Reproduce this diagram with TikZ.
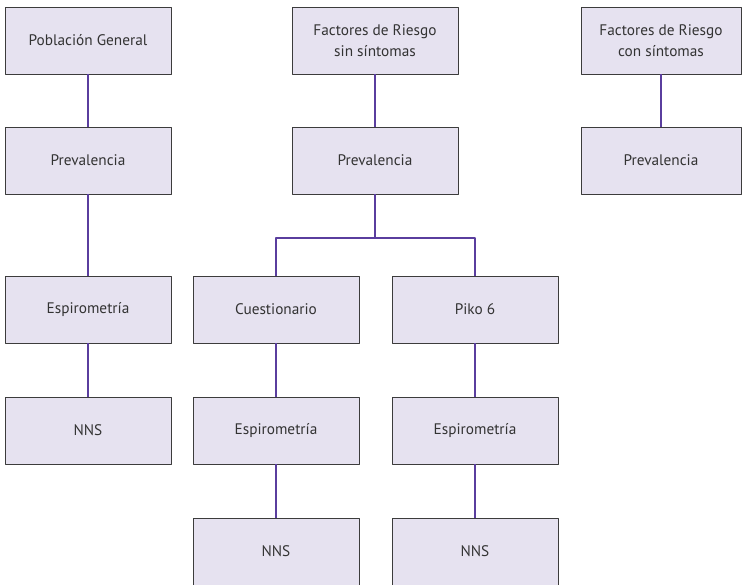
\documentclass[tikz,border=0pt]{standalone}
\usepackage{fontspec}
\setmainfont{PT Sans}
\usetikzlibrary{positioning}
\definecolor{lila_claro}{HTML}{E6E2F0}
\definecolor{borde_gris}{HTML}{3C3C3C}
\definecolor{morado}{HTML}{5A3E9E}
\tikzset{caja/.style={draw=borde_gris,fill=lila_claro,line width=0.8pt,minimum width=166pt,minimum height=67pt,align=center,font=\fontsize{15.3}{21}\selectfont,text=black!80}}
\tikzset{linea/.style={morado,line width=1.8pt}}

\begin{document}
\begin{tikzpicture}[x=1pt,y=-1pt,line join=round]
		\useasboundingbox (0,0) rectangle (742,584);
		% columna 1
		\node[caja] (pg)     at (88,40.5)   {Población General};
		\node[caja] (prevA)  at (88,160.5)  {Prevalencia};
		\node[caja] (espA)   at (88,309.5)  {Espirometría};
		\node[caja] (nnsA)   at (88,430.5)  {NNS};
		% columna 2
		\node[caja] (frs)    at (375,40.5)  {Factores de Riesgo\\sin síntomas};
		\node[caja] (prevB)  at (375,160.5) {Prevalencia};
		\node[caja] (cuest)  at (276,309.5) {Cuestionario};
		\node[caja] (piko)   at (475,309.5) {Piko 6};
		\node[caja] (espB)   at (276,430.5) {Espirometría};
		\node[caja] (espC)   at (475,430.5) {Espirometría};
		\node[caja] (nnsB)   at (276,551.5) {NNS};
		\node[caja] (nnsC)   at (475,551.5) {NNS};
		% columna 3
		\node[caja,minimum width=160pt] (frc)  at (661,40.5)  {Factores de Riesgo\\con síntomas};
		\node[caja,minimum width=160pt] (prevD) at (661,160.5) {Prevalencia};
		\coordinate (rama) at (375,238);
		% conexiones
		\foreach \a/\b in {pg/prevA,prevA/espA,espA/nnsA,frs/prevB,cuest/espB,espB/nnsB,piko/espC,espC/nnsC,frc/prevD}
		{
			\draw[linea] (\a) -- (\b);
		}
		\draw[linea] (prevB) -- (rama) -| (cuest);
		\draw[linea] (rama) -| (piko);
	\end{tikzpicture}
\end{document}
